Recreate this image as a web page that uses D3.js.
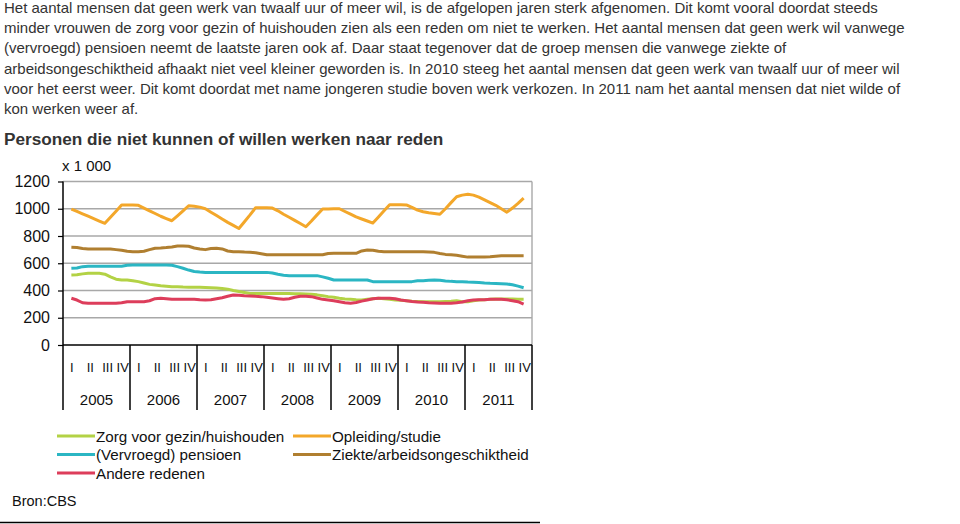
<!DOCTYPE html>
<html>
<head>
<meta charset="utf-8">
<script src="https://cdn.jsdelivr.net/npm/d3@7"></script>
<style>
  html, body { margin: 0; padding: 0; background: #fff; }
  svg { display: block; font-family: "Liberation Sans", Arial, sans-serif; }
</style>
</head>
<body>
<svg id="chart" width="960" height="524"></svg>
<script>
// ---------- data ----------
const introLines = [
  "Het aantal mensen dat geen werk van twaalf uur of meer wil, is de afgelopen jaren sterk afgenomen. Dit komt vooral doordat steeds",
  "minder vrouwen de zorg voor gezin of huishouden zien als een reden om niet te werken. Het aantal mensen dat geen werk wil vanwege",
  "(vervroegd) pensioen neemt de laatste jaren ook af. Daar staat tegenover dat de groep mensen die vanwege ziekte of",
  "arbeidsongeschiktheid afhaakt niet veel kleiner geworden is. In 2010 steeg het aantal mensen dat geen werk van twaalf uur of meer wil",
  "voor het eerst weer. Dit komt doordat met name jongeren studie boven werk verkozen. In 2011 nam het aantal mensen dat niet wilde of",
  "kon werken weer af."
];
const title = "Personen die niet kunnen of willen werken naar reden";
const unitLabel = "x 1 000";
const source = "Bron:CBS";

const years = ["2005", "2006", "2007", "2008", "2009", "2010", "2011"];
const quarters = ["I", "II", "III", "IV"];
const yTicks = [0, 200, 400, 600, 800, 1000, 1200];

// monthly values (x 1 000), February 2005 up to November 2011
const firstMonth = 1; // 0 = January 2005
const zorg = [
  514, 515, 522, 526, 526, 526, 520, 500, 483, 477, 477,
  472, 465, 455, 445, 440, 435, 432, 428, 428, 425, 423, 423,
  423, 422, 420, 418, 415, 410, 400, 392, 385, 378, 378, 378,
  378, 378, 378, 378, 378, 377, 376, 375, 372, 368, 362, 355,
  350, 343, 338, 335, 332, 330, 335, 340, 343, 340, 335, 330,
  328, 325, 322, 320, 318, 318, 318, 318, 320, 322, 325, 318,
  318, 325, 330, 332, 335, 338, 338, 338, 337, 335, 335
];
const opleiding = [
  998, 980, 963, 945, 928, 910, 893, 938, 982, 1027, 1027,
  1027, 1025, 1005, 985, 965, 945, 928, 912, 948, 985, 1022, 1018,
  1012, 1000, 975, 950, 925, 900, 878, 855, 905, 955, 1008, 1008,
  1008, 1005, 985, 960, 938, 915, 892, 868, 910, 955, 998, 998,
  1000, 1000, 980, 960, 940, 925, 910, 895, 940, 985, 1030, 1030,
  1030, 1028, 1010, 990, 978, 970, 965, 960, 1000, 1045, 1088, 1100,
  1106, 1100, 1085, 1065, 1045, 1025, 1000, 975, 1005, 1040, 1078
];
const pensioen = [
  563, 565, 575, 578, 578, 578, 578, 578, 578, 578, 585,
  587, 587, 587, 587, 587, 587, 587, 585, 575, 563, 550, 540,
  535, 533, 533, 533, 533, 533, 533, 533, 533, 533, 533, 533,
  533, 528, 519, 512, 509, 509, 509, 509, 509, 509, 500, 490,
  477, 477, 477, 477, 477, 477, 477, 465, 465, 465, 465, 465,
  465, 465, 465, 472, 472, 475, 477, 475, 470, 467, 465, 465,
  462, 460, 458, 455, 453, 452, 450, 448, 442, 432, 420
];
const ziekte = [
  717, 715, 708, 705, 705, 705, 705, 705, 700, 695, 688,
  685, 685, 688, 700, 710, 712, 715, 720, 727, 727, 725, 712,
  705, 700, 708, 710, 705, 690, 685, 685, 682, 680, 677, 670,
  662, 662, 662, 662, 662, 662, 662, 662, 662, 662, 662, 672,
  673, 673, 673, 673, 673, 690, 697, 695, 688, 685, 685, 685,
  685, 685, 685, 685, 685, 683, 680, 672, 665, 662, 658, 652,
  645, 645, 645, 645, 648, 652, 655, 655, 655, 655, 655
];
const andere = [
  343, 330, 310, 306, 306, 306, 306, 306, 306, 310, 318,
  318, 318, 318, 325, 340, 343, 340, 335, 335, 335, 335, 335,
  332, 330, 332, 340, 347, 358, 367, 365, 362, 360, 357, 355,
  350, 345, 340, 335, 340, 350, 358, 358, 355, 345, 335, 330,
  325, 318, 310, 306, 312, 322, 330, 340, 343, 343, 343, 340,
  330, 325, 320, 316, 313, 310, 308, 306, 306, 306, 310, 316,
  325, 330, 332, 333, 335, 335, 335, 332, 325, 318, 300
];

const seriesNames = ["Zorg voor gezin/huishouden", "Opleiding/studie", "(Vervroegd) pensioen",
                     "Ziekte/arbeidsongeschiktheid", "Andere redenen"];
const seriesValues = [zorg, opleiding, pensioen, ziekte, andere];
const seriesColors = ["#b3d245", "#f3a72a", "#2bb6c3", "#b07f30", "#dd3d5b"];
// draw order (back to front)
const drawOrder = [1, 3, 2, 0, 4];

// ---------- layout ----------
const svg = d3.select("#chart");
svg.append("rect").attr("width", 960).attr("height", 524).attr("fill", "#fff");

const plot = { left: 63, right: 532, top: 181.5, bottom: 345 };
const monthsTotal = years.length * 12;

const x = d3.scaleLinear().domain([0, monthsTotal]).range([plot.left, plot.right]);
const y = d3.scaleLinear().domain([0, 1200]).range([plot.bottom, plot.top]);

// intro paragraph
svg.append("g").selectAll("text").data(introLines).join("text")
  .attr("x", 4).attr("y", (d, i) => 13 + i * 20.2)
  .attr("font-size", 15).attr("fill", "#333")
  .text(d => d);

// title
svg.append("text").attr("x", 4).attr("y", 145)
  .attr("font-size", 17.2).attr("font-weight", "bold").attr("fill", "#333")
  .text(title);

// unit label
svg.append("text").attr("x", 62).attr("y", 171)
  .attr("font-size", 15).attr("fill", "#111").text(unitLabel);

// gridlines
svg.append("g").selectAll("line").data(yTicks.filter(v => v > 0)).join("line")
  .attr("x1", plot.left).attr("x2", plot.right)
  .attr("y1", d => y(d)).attr("y2", d => y(d))
  .attr("stroke", "#a8a8a8").attr("stroke-width", 1.4);
// right border
svg.append("line").attr("x1", plot.right).attr("x2", plot.right)
  .attr("y1", plot.top).attr("y2", plot.bottom)
  .attr("stroke", "#a8a8a8").attr("stroke-width", 1.4);

// y axis
const yAxis = svg.append("g").attr("transform", `translate(${plot.left},0)`)
  .call(d3.axisLeft(y).tickValues(yTicks).tickSize(5).tickPadding(8).tickFormat(d3.format("d")));
yAxis.select(".domain").remove();
yAxis.selectAll(".tick line").attr("stroke", "#000").attr("stroke-width", 1.2);
yAxis.selectAll("text").attr("font-size", 16).attr("fill", "#111")
  .attr("font-family", "Liberation Sans, Arial, sans-serif");

// lines
const line = d3.line()
  .x((d, i) => x(firstMonth + i + 0.5))
  .y(d => y(d));
svg.append("g").selectAll("path").data(drawOrder).join("path")
  .attr("d", k => line(seriesValues[k]))
  .attr("fill", "none")
  .attr("stroke", k => seriesColors[k])
  .attr("stroke-width", 3)
  .attr("stroke-linejoin", "round");

// x axis baseline
svg.append("line").attr("x1", plot.left).attr("x2", plot.right)
  .attr("y1", plot.bottom).attr("y2", plot.bottom)
  .attr("stroke", "#000").attr("stroke-width", 1.5);

// year separators (including left axis)
const sepBottom = 410;
svg.append("g").selectAll("line").data(d3.range(years.length + 1)).join("line")
  .attr("x1", i => x(i * 12)).attr("x2", i => x(i * 12))
  .attr("y1", i => i === 0 ? plot.top : plot.bottom).attr("y2", sepBottom)
  .attr("stroke", "#000").attr("stroke-width", 1.5);

// quarter labels
const quarterOffsets = [1.6, 4.9, 8.0, 10.7];
const qData = [];
years.forEach((yr, yi) => quarters.forEach((q, qi) => qData.push({ q, pos: yi * 12 + quarterOffsets[qi] })));
svg.append("g").selectAll("text").data(qData).join("text")
  .attr("x", d => x(d.pos)).attr("y", 372)
  .attr("text-anchor", "middle").attr("font-size", 13).attr("fill", "#111")
  .text(d => d.q);

// year labels
svg.append("g").selectAll("text").data(years).join("text")
  .attr("x", (d, i) => x(i * 12 + 6)).attr("y", 405)
  .attr("text-anchor", "middle").attr("font-size", 15).attr("fill", "#111")
  .text(d => d);

// legend
const legendPos = [
  { col: 0, row: 0 }, { col: 1, row: 0 },
  { col: 0, row: 1 }, { col: 1, row: 1 },
  { col: 0, row: 2 }
];
const colX = [57, 293];
const rowY = [436, 454.5, 473];
const lg = svg.append("g").selectAll("g").data(seriesNames).join("g")
  .attr("transform", (d, i) => `translate(${colX[legendPos[i].col]},${rowY[legendPos[i].row]})`);
lg.append("line").attr("x1", 0).attr("x2", 38).attr("y1", 0).attr("y2", 0)
  .attr("stroke", (d, i) => seriesColors[i]).attr("stroke-width", 3);
lg.append("text").attr("x", 39).attr("y", 5.5).attr("font-size", 15.2).attr("fill", "#111")
  .text(d => d);

// source
svg.append("text").attr("x", 12).attr("y", 506).attr("font-size", 14.5).attr("fill", "#111").text(source);

// bottom rule
svg.append("line").attr("x1", 0).attr("x2", 540).attr("y1", 522.5).attr("y2", 522.5)
  .attr("stroke", "#000").attr("stroke-width", 1.5);
</script>
</body>
</html>
